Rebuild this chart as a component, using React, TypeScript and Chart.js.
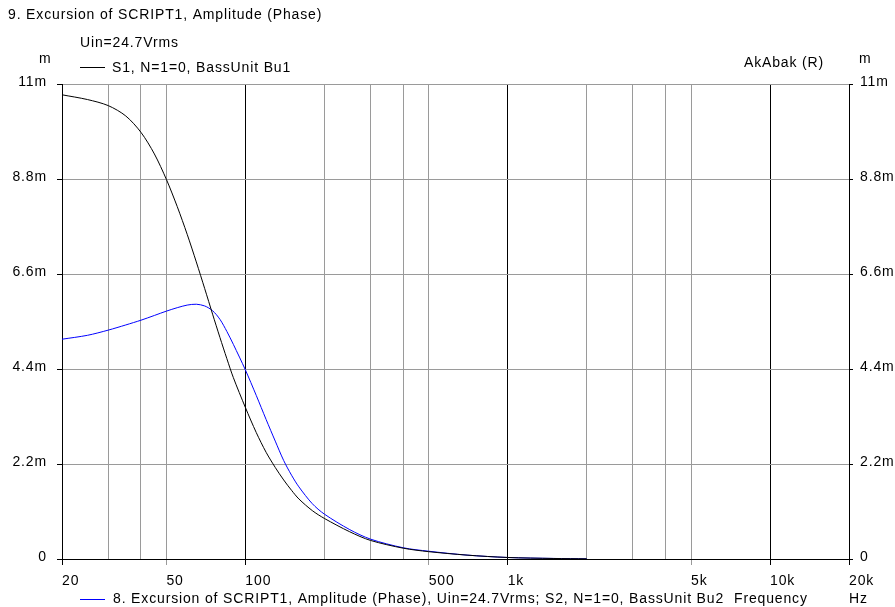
import React, { useEffect, useRef } from "react";
import { Chart, registerables } from "chart.js";

Chart.register(...registerables);

const freqs = [20, 25, 30, 35, 40, 45, 50, 55, 60, 65, 70, 75, 80, 85, 90, 100, 110, 120, 130, 140, 150, 160, 180, 200, 250, 300, 400, 500, 700, 1000, 1500, 2000];
const s1Values = [10.75, 10.64, 10.5, 10.26, 9.88, 9.38, 8.79, 8.16, 7.52, 6.88, 6.26, 5.67, 5.13, 4.64, 4.2, 3.51, 2.93, 2.47, 2.12, 1.83, 1.59, 1.39, 1.12, 0.94, 0.63, 0.43, 0.25, 0.17, 0.09, 0.035, 0.012, 0.004];
const s2Values = [5.09, 5.18, 5.3, 5.42, 5.53, 5.64, 5.74, 5.82, 5.88, 5.9, 5.86, 5.75, 5.55, 5.27, 4.97, 4.38, 3.79, 3.23, 2.73, 2.28, 1.94, 1.67, 1.28, 1.04, 0.68, 0.46, 0.26, 0.18, 0.09, 0.035, 0.013, 0.004];

const xGridValues = [20, 30, 40, 50, 100, 200, 300, 400, 500, 1000, 2000, 3000, 4000, 5000, 10000, 20000];
const xMajorValues = [20, 100, 1000, 10000, 20000];
const xLabelValues = [20, 50, 100, 500, 1000, 5000, 10000, 20000];
const xLabelTexts = ["20", "50", "100", "500", "1k", "5k", "10k", "20k"];
const yTickValues = [0, 2.2, 4.4, 6.6, 8.8, 11];
const yTickLabels = ["0", "2.2m", "4.4m", "6.6m", "8.8m", "11m"];

const FONT = "'Liberation Sans', Arial, sans-serif";
const FONT_SIZE = 14;
const LETTER_SPACING = "0.85px";
const GRAY = "#9a9a9a";

const spacingPlugin = {
  id: "akabakSpacing",
  beforeDraw(chart: any) {
    (chart.ctx as any).letterSpacing = LETTER_SPACING;
  },
};

const textPlugin = {
  id: "akabakText",
  afterDraw(chart: any) {
    const ctx = chart.ctx;
    ctx.save();
    (ctx as any).letterSpacing = LETTER_SPACING;
    ctx.font = `${FONT_SIZE}px ${FONT}`;
    ctx.fillStyle = "#000";
    ctx.textBaseline = "middle";
    ctx.textAlign = "left";
    ctx.fillText("9. Excursion of SCRIPT1, Amplitude (Phase)", 8, 15);
    ctx.fillText("Uin=24.7Vrms", 80, 43);
    ctx.fillText("S1, N=1=0, BassUnit Bu1", 112, 68);
    ctx.fillText("m", 39, 59);
    ctx.fillText("m", 859, 59);
    ctx.fillText("AkAbak (R)", 744, 63);
    ctx.fillText("8. Excursion of SCRIPT1, Amplitude (Phase), Uin=24.7Vrms; S2, N=1=0, BassUnit Bu2", 113, 599);
    ctx.fillText("Frequency", 734, 599);
    ctx.fillText("Hz", 849, 599);
    ctx.lineWidth = 1;
    ctx.strokeStyle = "#000";
    ctx.beginPath();
    ctx.moveTo(80, 67.5);
    ctx.lineTo(105, 67.5);
    ctx.stroke();
    ctx.strokeStyle = "#0000ff";
    ctx.beginPath();
    ctx.moveTo(80, 599.5);
    ctx.lineTo(105, 599.5);
    ctx.stroke();
    ctx.restore();
  },
};

export default function App() {
  const ref = useRef<HTMLCanvasElement>(null);
  useEffect(() => {
    if (!ref.current) return;
    const chart = new Chart(ref.current, {
      type: "line",
      data: {
        datasets: [
          {
            label: "S1",
            data: freqs.map((f, i) => ({ x: f, y: s1Values[i] })),
            borderColor: "#000000",
            borderWidth: 1,
            pointRadius: 0,
            tension: 0.3,
          },
          {
            label: "S2",
            data: freqs.map((f, i) => ({ x: f, y: s2Values[i] })),
            borderColor: "#0000ff",
            borderWidth: 1,
            pointRadius: 0,
            tension: 0.3,
          },
        ],
      },
      options: {
        responsive: false,
        animation: false,
        devicePixelRatio: 1,
        layout: { padding: { top: 84, left: 0, right: 0, bottom: 0 } },
        plugins: { legend: { display: false }, title: { display: false }, tooltip: { enabled: false } },
        scales: {
          x: {
            type: "logarithmic",
            min: 20,
            max: 20000,
            afterBuildTicks: (s: any) => {
              s.ticks = xGridValues.map((v) => ({ value: v }));
            },
            afterFit: (s: any) => {
              s.height = 48;
            },
            ticks: {
              autoSkip: false,
              maxRotation: 0,
              minRotation: 0,
              align: "start",
              padding: 8,
              color: "#000",
              font: { family: FONT, size: FONT_SIZE },
              callback: (v: any) => {
                const i = xLabelValues.indexOf(Number(v));
                return i >= 0 ? xLabelTexts[i] : "";
              },
            },
            grid: {
              color: (c: any) => (c.tick && xMajorValues.includes(c.tick.value) ? "#000" : GRAY),
              tickColor: (c: any) => {
                const v = c.tick ? c.tick.value : 0;
                if (!xLabelValues.includes(v)) return "rgba(0,0,0,0)";
                return xMajorValues.includes(v) ? "#000" : GRAY;
              },
              tickLength: 6,
              lineWidth: 1,
            },
            border: { color: "#000", width: 1 },
          },
          y: {
            type: "linear",
            position: "left",
            min: 0,
            max: 11,
            afterBuildTicks: (s: any) => {
              s.ticks = yTickValues.map((v) => ({ value: v }));
            },
            afterFit: (s: any) => {
              s.width = 62;
            },
            ticks: {
              padding: 10,
              labelOffset: -2,
              color: "#000",
              font: { family: FONT, size: FONT_SIZE },
              callback: (v: any) => {
                const i = yTickValues.indexOf(Number(v));
                return i >= 0 ? yTickLabels[i] : "";
              },
            },
            grid: { color: GRAY, tickColor: "#000", tickLength: 5, lineWidth: 1 },
            border: { color: "#000", width: 1 },
          },
          y2: {
            type: "linear",
            position: "right",
            min: 0,
            max: 11,
            afterBuildTicks: (s: any) => {
              s.ticks = yTickValues.map((v) => ({ value: v }));
            },
            afterFit: (s: any) => {
              s.width = 46;
            },
            ticks: {
              padding: 7,
              labelOffset: -2,
              color: "#000",
              font: { family: FONT, size: FONT_SIZE },
              callback: (v: any) => {
                const i = yTickValues.indexOf(Number(v));
                return i >= 0 ? yTickLabels[i] : "";
              },
            },
            grid: { drawOnChartArea: false, tickColor: "#000", tickLength: 4, lineWidth: 1 },
            border: { color: "#000", width: 1 },
          },
        },
      },
      plugins: [spacingPlugin, textPlugin],
    } as any);
    return () => chart.destroy();
  }, []);
  return (
    <div style={{ position: "fixed", left: 0, top: 0, width: 895, height: 607, background: "#fff" }}>
      <canvas ref={ref} width={895} height={607} style={{ width: 895, height: 607, display: "block" }} />
    </div>
  );
}
